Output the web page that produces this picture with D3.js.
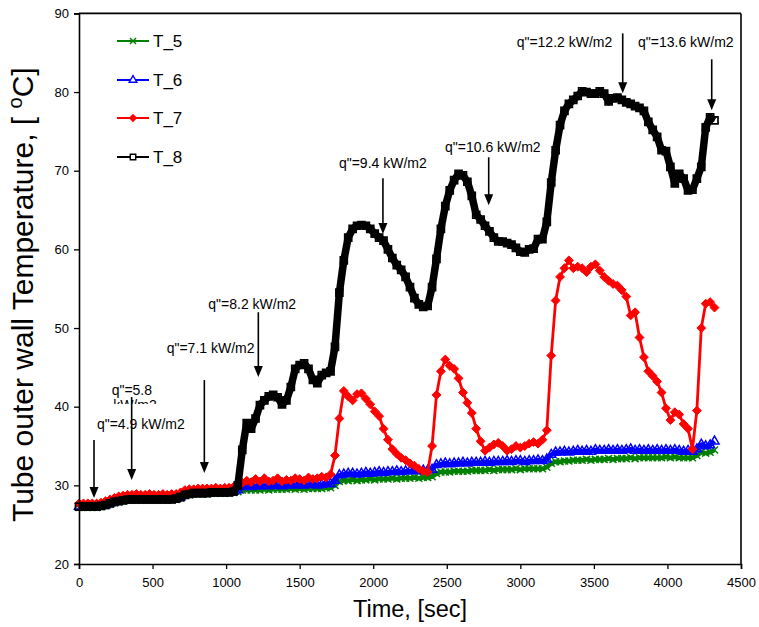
<!DOCTYPE html>
<html><head><meta charset="utf-8">
<script src="https://cdn.jsdelivr.net/npm/d3@7"></script>
<style>
body{margin:0;background:#fff}
svg{display:block}
text{font-family:"Liberation Sans",Arial,Helvetica,sans-serif}
</style></head>
<body>
<svg id="chart" width="759" height="627"></svg>
<script>
// ---------------- DATA ----------------
const time = [
0,30,60,90,120,150,180,210,240,270,
300,330,360,390,420,450,480,510,540,570,
600,630,660,690,720,750,780,810,840,870,
900,930,960,990,1020,1050,1080,1110,1140,1170,
1200,1230,1260,1290,1320,1350,1380,1410,1440,1470,
1500,1530,1560,1590,1620,1650,1680,1710,1740,1770,
1800,1830,1860,1890,1920,1950,1980,2010,2040,2070,
2100,2130,2160,2190,2220,2250,2280,2310,2340,2370,
2400,2430,2460,2490,2520,2550,2580,2610,2640,2670,
2700,2730,2760,2790,2820,2850,2880,2910,2940,2970,
3000,3030,3060,3090,3120,3150,3180,3210,3240,3270,
3300,3330,3360,3390,3420,3450,3480,3510,3540,3570,
3600,3630,3660,3690,3720,3750,3780,3810,3840,3870,
3900,3930,3960,3990,4020,4050,4080,4110,4140,4170,
4200,4230,4260,4290,4320];

const T_5 = [
27.2,27.2,27.2,27.2,27.2,27.3,27.4,27.6,27.8,27.9,
28.0,28.1,28.1,28.1,28.1,28.1,28.1,28.1,28.1,28.1,
28.1,28.1,28.2,28.4,28.7,28.8,28.9,28.9,28.9,28.9,
29.0,29.0,29.0,29.0,29.0,29.1,29.2,29.4,29.4,29.4,
29.4,29.4,29.5,29.4,29.5,29.5,29.5,29.5,29.6,29.5,
29.6,29.5,29.6,29.6,29.6,29.6,29.7,29.7,30.0,30.5,
30.6,30.6,30.7,30.6,30.7,30.7,30.8,30.7,30.8,30.8,
30.8,30.9,30.8,30.9,30.9,30.9,31.0,30.9,31.0,31.0,
31.1,31.5,31.7,31.7,31.7,31.8,31.8,31.8,31.8,31.9,
31.9,31.9,31.9,32.0,31.9,32.0,32.0,32.0,32.0,32.1,
32.0,32.1,32.1,32.1,32.1,32.1,32.3,32.8,33.0,33.0,
33.1,33.1,33.2,33.2,33.2,33.3,33.2,33.3,33.3,33.3,
33.4,33.3,33.4,33.4,33.4,33.5,33.4,33.5,33.5,33.5,
33.5,33.5,33.5,33.6,33.5,33.6,33.5,33.5,33.5,33.5,
33.8,34.2,34.1,34.2,34.5];

const T_6 = [
27.3,27.3,27.3,27.3,27.3,27.4,27.5,27.7,27.9,28.0,
28.1,28.2,28.2,28.2,28.2,28.2,28.2,28.2,28.2,28.2,
28.2,28.2,28.3,28.5,28.8,28.9,29.0,29.0,29.0,29.0,
29.1,29.1,29.1,29.1,29.1,29.2,29.4,29.8,29.9,29.8,
29.9,29.9,30.0,29.9,30.0,30.0,29.9,30.0,30.1,30.0,
30.1,30.0,30.1,30.1,30.0,30.1,30.2,30.2,30.6,31.3,
31.4,31.5,31.5,31.4,31.5,31.6,31.5,31.6,31.7,31.6,
31.7,31.7,31.8,31.7,31.8,31.8,31.9,31.8,31.9,31.9,
32.0,32.6,32.7,32.8,32.7,32.8,32.8,32.9,32.8,32.9,
32.9,32.9,33.0,32.9,33.0,33.0,33.0,33.1,33.0,33.1,
33.1,33.0,33.1,33.1,33.2,33.1,33.3,33.9,34.2,34.2,
34.3,34.2,34.3,34.4,34.3,34.4,34.3,34.5,34.4,34.4,
34.5,34.4,34.5,34.4,34.5,34.6,34.4,34.5,34.4,34.5,
34.4,34.5,34.4,34.5,34.4,34.5,34.4,34.3,34.4,34.3,
34.6,35.2,35.0,35.1,35.6];

const T_7 = [
27.7,27.7,27.7,27.7,27.7,27.8,28.0,28.2,28.4,28.6,
28.7,28.8,28.8,28.9,28.8,28.8,28.9,28.8,28.8,28.9,
28.8,28.9,28.9,29.1,29.4,29.5,29.5,29.6,29.6,29.6,
29.6,29.7,29.6,29.7,29.7,29.8,29.9,30.3,30.6,30.4,
30.8,30.5,30.9,30.5,30.6,30.9,30.5,30.7,30.6,30.9,
30.8,30.6,31.0,30.8,30.9,31.1,31.0,31.4,33.8,38.5,
42.0,41.3,40.8,41.6,41.7,41.0,40.3,39.4,38.8,37.2,
35.8,34.6,34.0,33.5,33.2,32.8,32.5,32.1,31.8,31.7,
35.0,41.5,44.5,46.0,45.2,44.8,43.6,41.8,40.5,39.2,
37.2,35.6,34.4,34.8,35.2,35.4,35.0,34.4,34.6,35.0,
34.8,35.0,35.3,35.5,35.3,35.8,37.0,46.5,53.5,56.5,
57.6,58.6,57.6,57.8,57.6,57.1,57.8,58.1,57.3,56.5,
56.0,55.6,55.4,54.8,54.0,51.6,52.0,48.8,46.3,44.5,
43.9,43.2,41.8,39.8,38.3,39.3,39.0,37.8,37.2,34.6,
39.5,50.0,53.1,53.3,52.6];

const T_8 = [
27.3,27.3,27.3,27.3,27.3,27.4,27.5,27.7,27.9,28.0,
28.1,28.2,28.2,28.2,28.2,28.2,28.2,28.2,28.2,28.2,
28.2,28.2,28.3,28.5,28.8,28.9,29.0,29.0,29.0,29.0,
29.1,29.1,29.1,29.1,29.1,29.2,30.0,34.5,37.9,37.2,
38.5,40.2,40.8,41.3,41.5,41.2,40.3,40.8,42.5,44.8,
45.3,45.5,44.8,43.4,43.0,44.0,44.3,44.5,47.6,54.5,
58.6,61.5,62.6,63.0,63.1,63.0,62.6,62.0,61.5,61.1,
60.0,58.9,58.0,57.4,56.5,55.2,53.8,53.0,52.7,52.8,
55.2,58.8,62.6,65.5,67.5,68.8,69.6,69.4,68.6,66.8,
64.4,63.8,63.0,62.3,61.5,61.0,61.0,60.8,60.6,60.2,
59.7,59.6,60.0,60.1,61.3,61.3,63.5,68.5,72.6,75.8,
77.6,78.5,79.0,79.5,80.1,80.0,79.8,79.8,80.1,79.8,
78.8,79.2,79.3,79.0,78.7,78.5,78.2,78.0,77.6,76.2,
75.2,74.3,72.6,72.5,70.5,68.4,69.6,69.0,67.5,67.6,
69.0,70.5,75.5,76.8,76.4];

const seriesNames = ["T_5","T_6","T_7","T_8"];
const xTicks = [0,500,1000,1500,2000,2500,3000,3500,4000,4500];
const yTicks = [20,30,40,50,60,70,80,90];

// heat-flux annotations: label, arrow time, arrow top temp, arrow tip temp, label time, label temp
const annLabels = ['q"=4.9 kW/m2','q"=5.8','q"=7.1 kW/m2','q"=8.2 kW/m2','q"=9.4 kW/m2','q"=10.6 kW/m2','q"=12.2 kW/m2','q"=13.6 kW/m2'];
const annArrowT = [102,358,852,1219,2066,2785,3696,4301];
const annArrowTop = [35.75,41.22,43.38,52.01,69.04,71.71,87.46,84.16];
const annArrowTip = [28.38,30.67,31.56,43.76,61.95,65.62,79.84,77.68];
const annLabelT = [122,222,596,879,1767,2488,2975,3800];
const annLabelTemp = [37.15,41.47,46.77,52.48,70.31,72.38,85.72,85.72];

// ---------------- CHART ----------------
const svg = d3.select("#chart");
const x = d3.scaleLinear().domain([0,4500]).range([79,741]);
const y = d3.scaleLinear().domain([20,90]).range([564,13.4]);

const values = {T_5, T_6, T_7, T_8};
const diamond = d3.symbolDiamond2 || d3.symbolDiamond;
const styles = {
  T_5:{color:"#008000", symbol:d3.symbolTimes, size:34, fill:"none", sw:1.5, lw:4.5},
  T_6:{color:"#0000ff", symbol:d3.symbolTriangle, size:36, fill:"none", sw:1.5, lw:4.5},
  T_7:{color:"#ff0000", symbol:diamond, size:50, fill:"#ff0000", sw:1, lw:2.8},
  T_8:{color:"#000000", symbol:d3.symbolSquare, size:49, fill:"none", sw:1.7, lw:7.5}
};

const line = d3.line().x(d=>x(d[0])).y(d=>y(d[1]));

seriesNames.forEach(name=>{
  const st = styles[name];
  const pts = time.map((t,i)=>[t, values[name][i]]);
  const g = svg.append("g");
  g.append("path").attr("d", line(pts)).attr("fill","none")
    .attr("stroke", st.color).attr("stroke-width", st.lw).attr("stroke-linejoin","round");
  g.selectAll("path.m").data(pts).join("path").attr("class","m")
    .attr("transform", d=>`translate(${x(d[0])},${y(d[1])})`)
    .attr("d", d3.symbol().type(st.symbol).size(st.size))
    .attr("fill", st.fill).attr("stroke", st.color).attr("stroke-width", st.sw);
});

// axes
const xAxis = d3.axisBottom(x).tickValues(xTicks).tickSize(5).tickPadding(9).tickFormat(d3.format("d"));
const yAxis = d3.axisLeft(y).tickValues(yTicks).tickSize(5).tickPadding(5).tickFormat(d3.format("d"));
const gx = svg.append("g").attr("transform","translate(0,564)").call(xAxis);
const gy = svg.append("g").attr("transform","translate(79,0)").call(yAxis);
[gx,gy].forEach(g=>{
  g.select(".domain").attr("stroke","#000").attr("stroke-width",1.6);
  g.selectAll(".tick line").attr("stroke","#000").attr("stroke-width",1.3);
  g.selectAll(".tick text").attr("fill","#000").attr("font-size",13)
    .attr("font-family",'"Liberation Sans",Arial,sans-serif');
});
// frame top & right
svg.append("line").attr("x1",x(0)).attr("x2",x(4500)).attr("y1",y(90)).attr("y2",y(90))
  .attr("stroke","#000").attr("stroke-width",1.6);
svg.append("line").attr("x1",x(4500)).attr("x2",x(4500)).attr("y1",y(90)).attr("y2",y(20))
  .attr("stroke","#000").attr("stroke-width",1.6);

// axis titles
svg.append("text").attr("x",(x(0)+x(4500))/2).attr("y",617).attr("text-anchor","middle")
  .attr("font-size",23.5).attr("fill","#000").text("Time, [sec]");
const yt = svg.append("text").attr("transform",`translate(33,${(y(20)+y(90))/2 + 6}) rotate(-90)`)
  .attr("text-anchor","middle").attr("font-size",30).attr("fill","#000");
yt.append("tspan").text("Tube outer wall Temperature, [ ");
yt.append("tspan").attr("font-size",20).attr("dy",-11).text("o");
yt.append("tspan").attr("dy",11).text("C]");

// annotations
const defs = svg.append("defs");
defs.append("clipPath").attr("id","clip58").append("rect")
  .attr("x",0).attr("y",0).attr("width",759).attr("height",404);
const ag = svg.append("g");
annLabels.forEach((lab,i)=>{
  ag.append("text").attr("x",x(annLabelT[i])).attr("y",y(annLabelTemp[i]))
    .attr("font-size",14).attr("fill","#000").text(lab);
  if(lab==='q"=5.8'){
    ag.append("text").attr("x",x(annLabelT[i])+1.5).attr("y",y(annLabelTemp[i])+15)
      .attr("clip-path","url(#clip58)").attr("font-size",14).attr("fill","#000").text("kW/m2");
  }
});
annArrowT.forEach((t,i)=>{
  const ax = x(t), y1 = y(annArrowTop[i]), y2 = y(annArrowTip[i]);
  ag.append("line").attr("x1",ax).attr("x2",ax).attr("y1",y1).attr("y2",y2-8)
    .attr("stroke","#000").attr("stroke-width",1.6);
  ag.append("path").attr("d",`M${ax-4.5},${y2-11}L${ax+4.5},${y2-11}L${ax},${y2}Z`).attr("fill","#000");
});

// legend
const legY = [41,80,118,157];
seriesNames.forEach((name,i)=>{
  const st = styles[name];
  const g = svg.append("g").attr("transform",`translate(0,${legY[i]})`);
  g.append("line").attr("x1",117).attr("x2",149).attr("y1",0).attr("y2",0)
    .attr("stroke",st.color).attr("stroke-width",2);
  g.append("path").attr("transform","translate(133,0)")
    .attr("d", d3.symbol().type(st.symbol).size(name==="T_8"?30:26))
    .attr("fill", name==="T_7" ? st.fill : "#fff").attr("stroke",st.color).attr("stroke-width",1.4);
  g.append("text").attr("x",153).attr("y",6).attr("font-size",17).attr("fill","#000").text(name);
});
</script>
</body></html>
